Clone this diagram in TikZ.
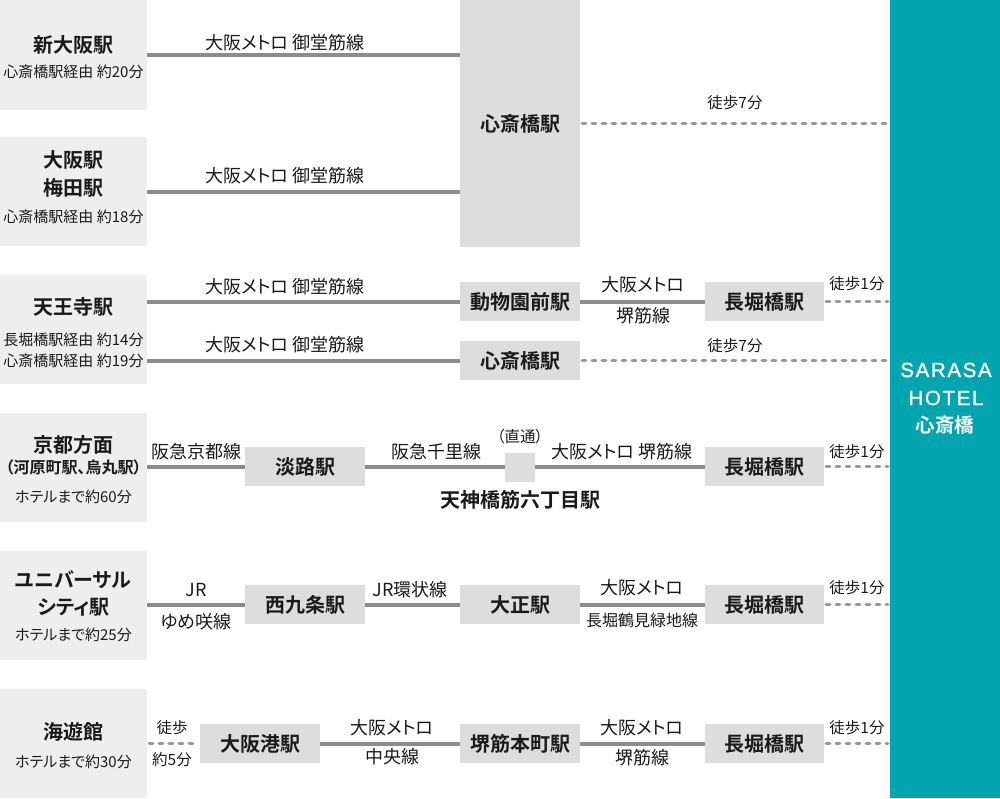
\documentclass[tikz,border=0pt]{standalone}
\usepackage{fontspec}
\setmainfont{Noto Sans CJK JP}[RawFeature=+palt, BoldFont={Noto Sans CJK JP Bold}]
\newfontfamily\hotelfont{Liberation Sans}[LetterSpace=8, FakeBold=1.2]
\definecolor{boxL}{HTML}{EEEEEE}
\definecolor{boxS}{HTML}{DDDDDD}
\definecolor{railc}{HTML}{8C8C8C}
\definecolor{walkc}{HTML}{999999}
\definecolor{hotelc}{HTML}{00A5B0}
\definecolor{inkc}{HTML}{1A1A1A}
\newcommand\fTitle{\fontsize{20}{23}\selectfont\bfseries}
\newcommand\fSmall{\fontsize{15}{17}\selectfont}
\newcommand\fLine{\fontsize{18}{21}\selectfont}
\newcommand\fWalk{\fontsize{15.5}{18}\selectfont}
\tikzset{
  lbox/.style={fill=boxL, inner sep=0pt, minimum width=147pt},
  sbox/.style={fill=boxS, inner sep=0pt, minimum width=120pt, minimum height=39pt, font=\fTitle, text=inkc},
  ttl/.style={inner sep=0pt, font=\fTitle, text=inkc},
  sml/.style={inner sep=0pt, font=\fSmall, text=inkc},
  lbl/.style={inner sep=0pt, font=\fLine, text=inkc},
  wlk/.style={inner sep=0pt, font=\fWalk, text=inkc},
  htxt/.style={inner sep=0pt, text=white, font=\hotelfont\fontsize{20.5}{23}\selectfont},
  rail/.style={draw=railc, line width=4pt},
  walk/.style={draw=walkc, line width=3.5pt, line cap=round, dash pattern=on 3.5pt off 6.5pt},
}
\begin{document}
\begin{tikzpicture}[x=1pt,y=-1pt]
\useasboundingbox (0,0) rectangle (1000,798);
% hotel
\node[fill=hotelc, inner sep=0pt, minimum width=110pt, minimum height=798pt] (hotel) at (945,399) {};
\node[htxt] (h1) at (946,370) {SARASA};
\node[htxt] (h2) at (946,398) {HOTEL};
\node[inner sep=0pt, text=white, font=\fontsize{19.5}{22}\selectfont\bfseries] (h3) at (945,425) {心斎橋};
% left boxes
\node[lbox, minimum height=110pt] (L1) at (73.5,55) {};
\node[lbox, minimum height=109pt] (L2) at (73.5,191.5) {};
\node[lbox, minimum height=109pt] (L3) at (73.5,329.5) {};
\node[lbox, minimum height=109pt] (L4) at (73.5,467.5) {};
\node[lbox, minimum height=109pt] (L5) at (73.5,605.5) {};
\node[lbox, minimum height=109pt] (L6) at (73.5,743.5) {};
% station boxes
\node[sbox, minimum height=247pt] (sb) at (520,123.5) {心斎橋駅};
\node[sbox] (dob) at (520,301.5) {動物園前駅};
\node[sbox, minimum width=119pt] (nag3) at (764.5,301.5) {長堀橋駅};
\node[sbox] (sai3) at (520,360.5) {心斎橋駅};
\node[sbox] (awaji) at (305,466.5) {淡路駅};
\node[fill=boxS, inner sep=0pt, minimum width=30pt, minimum height=29pt] (tenroku) at (520,467.5) {};
\node[sbox, minimum width=119pt] (nag4) at (764.5,466.5) {長堀橋駅};
\node[sbox] (nishi) at (305,604.5) {西九条駅};
\node[sbox] (taisho) at (520,604.5) {大正駅};
\node[sbox, minimum width=119pt] (nag5) at (764.5,604.5) {長堀橋駅};
\node[sbox] (osakako) at (260,743.5) {大阪港駅};
\node[sbox] (sakai) at (520,743.5) {堺筋本町駅};
\node[sbox, minimum width=119pt] (nag6) at (764.5,743.5) {長堀橋駅};
% connectors
\draw[rail] (L1.east) -- (L1.east -| sb.west);
\draw[rail] (L2.east) -- (L2.east -| sb.west);
\draw[walk] ([xshift=2pt]sb.east) -- ([xshift=-2pt]sb.east -| hotel.west);
\draw[rail] (dob.west -| L3.east) -- (dob.west);
\draw[rail] (dob.east) -- (nag3.west);
\draw[walk] ([xshift=2pt]nag3.east) -- ([xshift=-2pt]nag3.east -| hotel.west);
\draw[rail] (sai3.west -| L3.east) -- (sai3.west);
\draw[walk] ([xshift=2pt]sai3.east) -- ([xshift=-2pt]sai3.east -| hotel.west);
\draw[rail] (awaji.west -| L4.east) -- (awaji.west);
\draw[rail] (awaji.east) -- (tenroku.west |- awaji.east);
\draw[rail] (tenroku.east |- nag4.west) -- (nag4.west);
\draw[walk] ([xshift=2pt]nag4.east) -- ([xshift=-2pt]nag4.east -| hotel.west);
\draw[rail] (nishi.west -| L5.east) -- (nishi.west);
\draw[rail] (nishi.east) -- (taisho.west);
\draw[rail] (taisho.east) -- (nag5.west);
\draw[walk] ([xshift=2pt]nag5.east) -- ([xshift=-2pt]nag5.east -| hotel.west);
\draw[walk] ([xshift=2pt]L6.east) -- ([xshift=-2pt]osakako.west);
\draw[rail] (osakako.east) -- (sakai.west);
\draw[rail] (sakai.east) -- (nag6.west);
\draw[walk] ([xshift=2pt]nag6.east) -- ([xshift=-2pt]nag6.east -| hotel.west);
% row 1
\node[ttl] (t1) at (73.5,45) {新大阪駅};
\node[sml] (s1) at (73.5,72) {心斎橋駅経由 約20分};
\node[lbl] (l1) at (285,43) {大阪メトロ 御堂筋線};
% row 2
\node[ttl] (t2a) at (73.5,160) {大阪駅};
\node[ttl] (t2b) at (73.5,188) {梅田駅};
\node[sml] (s2) at (73.5,217) {心斎橋駅経由 約18分};
\node[lbl] (l2) at (285,176) {大阪メトロ 御堂筋線};
\node[wlk] (w1) at (735,103) {徒歩7分};
% row 3
\node[ttl] (t3) at (73.5,307) {天王寺駅};
\node[sml] (s3a) at (73.5,340) {長堀橋駅経由 約14分};
\node[sml] (s3b) at (73.5,361) {心斎橋駅経由 約19分};
\node[lbl] (l3a) at (285,287) {大阪メトロ 御堂筋線};
\node[lbl] (l3b) at (285,345) {大阪メトロ 御堂筋線};
\node[lbl] (l3c) at (643,285) {大阪メトロ};
\node[lbl] (l3d) at (643,316) {堺筋線};
\node[wlk] (w3) at (857,284) {徒歩1分};
\node[wlk] (w3b) at (735,346) {徒歩7分};
% row 4
\node[ttl] (t4) at (73.5,445) {京都方面};
\node[sml, font=\fontsize{16}{18}\selectfont\bfseries] (s4a) at (73.5,467) {（河原町駅、烏丸駅）};
\node[sml] (s4b) at (73.5,497) {ホテルまで約60分};
\node[lbl] (l4a) at (196,452) {阪急京都線};
\node[lbl] (l4b) at (436,452) {阪急千里線};
\node[wlk] (l4c) at (520,437) {（直通）};
\node[lbl] (l4d) at (622,452) {大阪メトロ 堺筋線};
\node[ttl] (t4x) at (520,500) {天神橋筋六丁目駅};
\node[wlk] (w4) at (857,452) {徒歩1分};
% row 5
\node[ttl] (t5a) at (73.5,580) {ユニバーサル};
\node[ttl] (t5b) at (73.5,607) {シティ駅};
\node[sml] (s5) at (73.5,635) {ホテルまで約25分};
\node[lbl] (l5a) at (196,590) {JR};
\node[lbl] (l5b) at (196,622) {ゆめ咲線};
\node[lbl] (l5c) at (410,590) {JR環状線};
\node[lbl] (l5d) at (642,588) {大阪メトロ};
\node[lbl, font=\fontsize{16}{19}\selectfont] (l5e) at (642,620) {長堀鶴見緑地線};
\node[wlk] (w5) at (857,588) {徒歩1分};
% row 6
\node[ttl] (t6) at (73.5,732) {海遊館};
\node[sml] (s6) at (73.5,762) {ホテルまで約30分};
\node[wlk] (l6a) at (172,728) {徒歩};
\node[wlk] (l6b) at (172,760) {約5分};
\node[lbl] (l6c) at (392,728) {大阪メトロ};
\node[lbl] (l6d) at (392,757) {中央線};
\node[lbl] (l6e) at (642,728) {大阪メトロ};
\node[lbl] (l6f) at (642,758) {堺筋線};
\node[wlk] (w6) at (857,728) {徒歩1分};
\end{tikzpicture}
\end{document}
